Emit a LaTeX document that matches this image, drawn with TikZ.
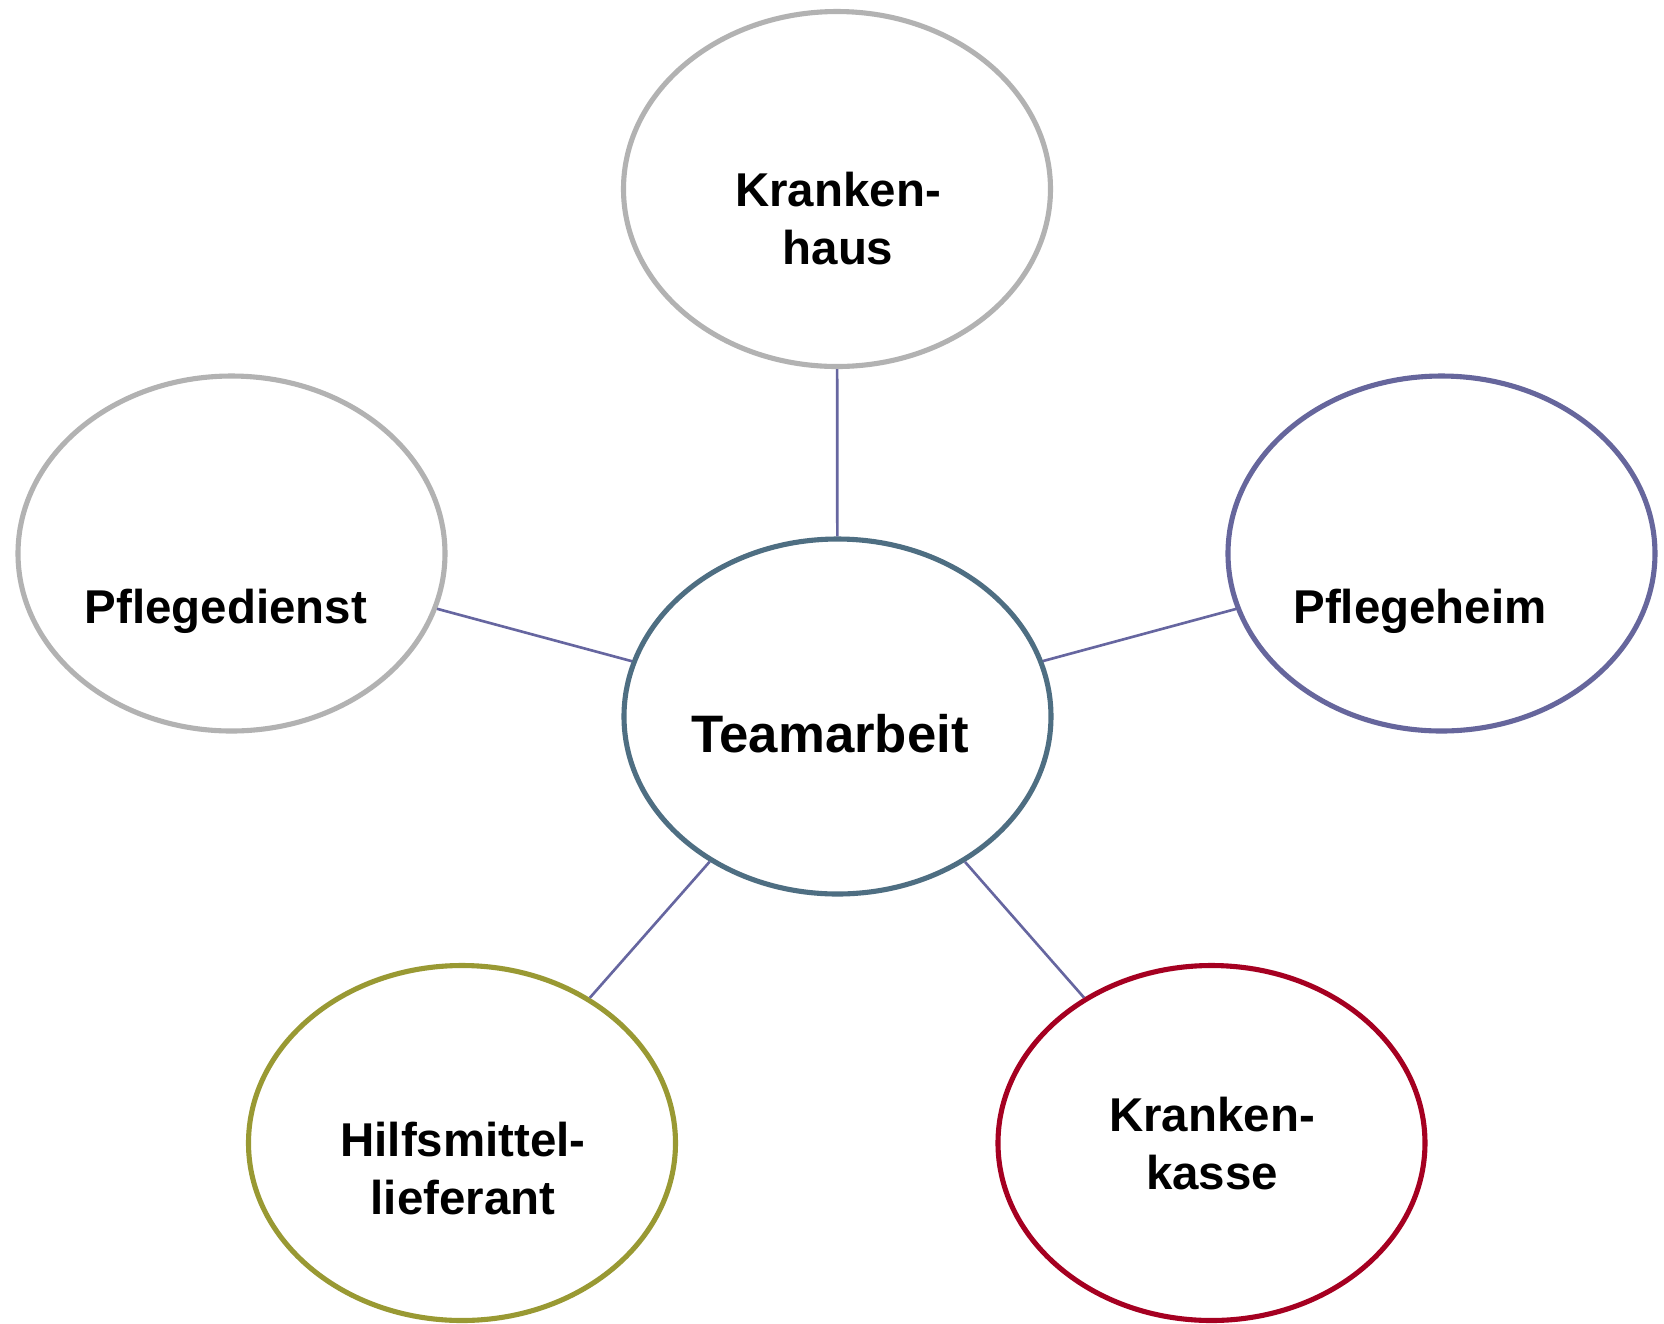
\documentclass[tikz,border=0pt]{standalone}
\usepackage{fontspec}
\setmainfont{Liberation Sans}
\usepackage{tikz}
\usetikzlibrary{shapes.geometric}

\definecolor{rimgray}{HTML}{B2B2B2}
\definecolor{rimteam}{HTML}{4E6E82}
\definecolor{rimheim}{HTML}{66669C}
\definecolor{rimolive}{HTML}{999933}
\definecolor{rimred}{HTML}{A50021}
\definecolor{linkblue}{HTML}{6666A0}

\begin{document}
\begin{tikzpicture}[
  bubble/.style={ellipse, draw, fill=white, line width=1.45pt, minimum width=4.27cm, minimum height=3.55cm, inner sep=0pt},
  bubbletext/.style={font=\bfseries\fontsize{13.5pt}{16.5pt}\selectfont, align=center, inner sep=0pt},
  link/.style={draw=linkblue, line width=0.75pt}]
  \filldraw[fill=white, draw=none] (0cm,0cm) rectangle (16.64cm,-13.24cm);
  \node[bubble, draw=rimgray] (haus) at (8.37cm,-1.89cm) {};
  \node[bubble, draw=rimgray] (dienst) at (2.315cm,-5.535cm) {};
  \node[bubble, draw=rimteam] (team) at (8.375cm,-7.165cm) {};
  \node[bubble, draw=rimheim] (heim) at (14.415cm,-5.535cm) {};
  \node[bubble, draw=rimolive] (hilfe) at (4.62cm,-11.43cm) {};
  \node[bubble, draw=rimred] (kasse) at (12.115cm,-11.43cm) {};
  \draw[link] (team) -- (haus);
  \draw[link] (team) -- (dienst);
  \draw[link] (team) -- (heim);
  \draw[link] (team) -- (hilfe);
  \draw[link] (team) -- (kasse);
  \node[bubbletext] (haus-text) at (8.38cm,-2.19cm) {Kranken-\\haus};
  \node[bubbletext, anchor=base] (dienst-text) at (2.26cm,-6.23cm) {Pflegedienst};
  \node[bubbletext, anchor=base, font=\bfseries\fontsize{15pt}{18pt}\selectfont] (team-text) at (8.30cm,-7.52cm) {Teamarbeit};
  \node[bubbletext, anchor=base] (heim-text) at (14.20cm,-6.23cm) {Pflegeheim};
  \node[bubbletext] (hilfe-text) at (4.63cm,-11.69cm) {Hilfsmittel-\\lieferant};
  \node[bubbletext] (kasse-text) at (12.12cm,-11.435cm) {Kranken-\\kasse};
\end{tikzpicture}
\end{document}
